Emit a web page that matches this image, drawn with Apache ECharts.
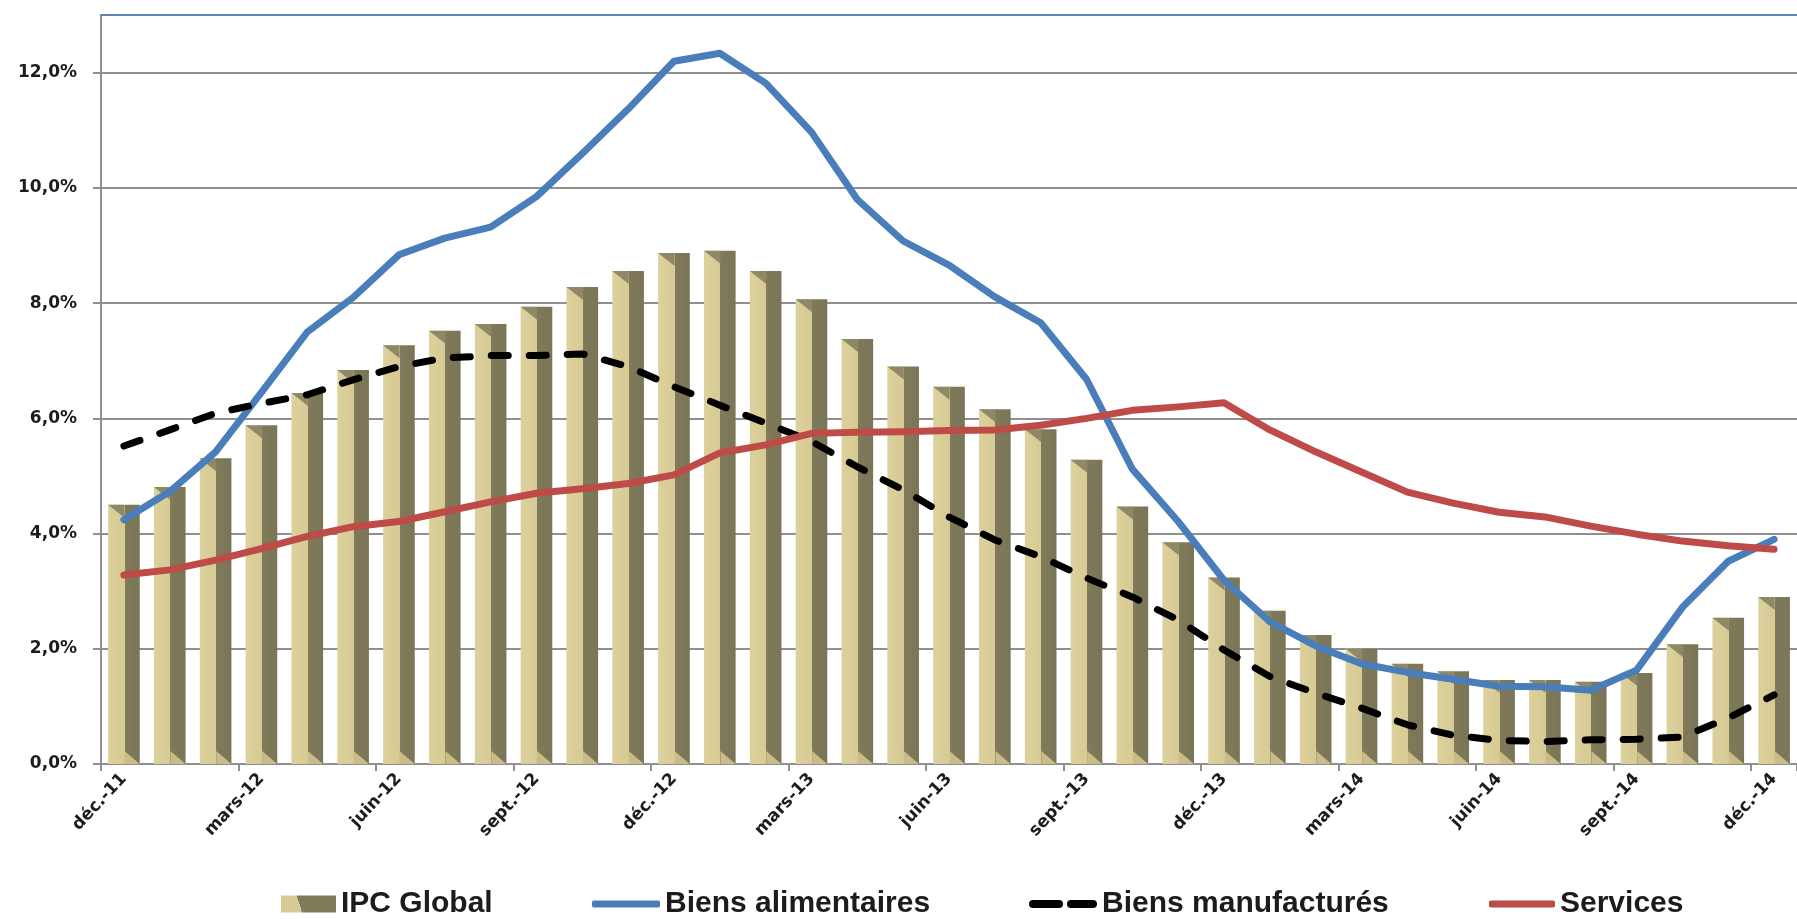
<!DOCTYPE html>
<html>
<head>
<meta charset="utf-8">
<script src="https://cdn.jsdelivr.net/npm/echarts@6/dist/echarts.min.js"></script>
<style>
  html, body { margin: 0; padding: 0; background: #ffffff; overflow: hidden; }
  #chart { width: 1797px; height: 919px; }
</style>
</head>
<body>
<div id="chart"></div>
<script>
// Monthly year-on-year inflation, Dec 2011 – Dec 2014 (%)
const months = [
  'déc.-11', 'janv.-12', 'févr.-12', 'mars-12', 'avr.-12', 'mai-12', 'juin-12', 'juil.-12', 'août-12',
  'sept.-12', 'oct.-12', 'nov.-12', 'déc.-12', 'janv.-13', 'févr.-13', 'mars-13', 'avr.-13', 'mai-13',
  'juin-13', 'juil.-13', 'août-13', 'sept.-13', 'oct.-13', 'nov.-13', 'déc.-13', 'janv.-14', 'févr.-14',
  'mars-14', 'avr.-14', 'mai-14', 'juin-14', 'juil.-14', 'août-14', 'sept.-14', 'oct.-14', 'nov.-14', 'déc.-14'
];

const ipcGlobal = [
  4.50, 4.81, 5.31, 5.88, 6.44, 6.84, 7.27, 7.52, 7.64, 7.94, 8.28, 8.56, 8.87, 8.91, 8.56, 8.07, 7.38,
  6.90, 6.55, 6.16, 5.81, 5.28, 4.47, 3.85, 3.24, 2.66, 2.24, 2.00, 1.74, 1.61, 1.46, 1.46, 1.43, 1.58,
  2.08, 2.54, 2.90
];

const biensAlimentaires = [
  4.24, 4.73, 5.42, 6.45, 7.50, 8.10, 8.84, 9.13, 9.32, 9.85, 10.60, 11.37, 12.20, 12.34, 11.82, 10.97,
  9.80, 9.08, 8.66, 8.11, 7.66, 6.68, 5.12, 4.21, 3.19, 2.47, 2.05, 1.74, 1.59, 1.47, 1.35, 1.34, 1.28,
  1.63, 2.72, 3.52, 3.90
];

const biensManufactures = [
  5.52, 5.80, 6.09, 6.26, 6.41, 6.67, 6.90, 7.05, 7.09, 7.09, 7.12, 6.90, 6.55, 6.23, 5.92, 5.60, 5.16,
  4.76, 4.29, 3.89, 3.60, 3.23, 2.90, 2.50, 1.98, 1.52, 1.23, 0.97, 0.68, 0.50, 0.41, 0.39, 0.42, 0.43,
  0.47, 0.80, 1.20
];

const services = [
  3.28, 3.37, 3.54, 3.74, 3.95, 4.12, 4.21, 4.38, 4.55, 4.70, 4.78, 4.87, 5.02, 5.40, 5.54, 5.74, 5.76,
  5.77, 5.79, 5.80, 5.88, 6.00, 6.14, 6.20, 6.27, 5.80, 5.42, 5.07, 4.72, 4.53, 4.37, 4.29, 4.13, 3.99,
  3.87, 3.79, 3.73
];

const yTickLabels = ['0,0%', '2,0%', '4,0%', '6,0%', '8,0%', '10,0%', '12,0%'];

const BAR_LIGHT = '#d7ca94';
const BAR_DARK = '#7f7a5a';
const BAR_RATIO = 0.69;
const GRID_GRAY = '#8f8f8f';
const TEXT_DARK = '#1c1c1c';
const BLUE = '#4a7ebb';
const RED = '#be4b48';

const barFill = new echarts.graphic.LinearGradient(0, 0, 1, 0, [
  { offset: 0, color: '#dcd09c' },
  { offset: 0.52, color: BAR_LIGHT },
  { offset: 0.52, color: BAR_DARK },
  { offset: 1, color: '#7a7556' }
]);

const legendBarFill = new echarts.graphic.LinearGradient(0, 1, 1, 0, [
  { offset: 0, color: BAR_LIGHT },
  { offset: 0.35, color: BAR_LIGHT },
  { offset: 0.35, color: BAR_DARK },
  { offset: 1, color: BAR_DARK }
]);

// Two rounded dashes for the dashed-line legend key
const DASH_ICON = 'path://M4,0 H30 A4,4 0 0 1 30,8 H4 A4,4 0 0 1 4,0 Z M42,0 H64 A4,4 0 0 1 64,8 H42 A4,4 0 0 1 42,0 Z';

// Bevel facets drawn over each column: a shaded chamfer at the top of the
// front face and a lit chamfer at the foot of the side face.
function renderBevel(params, api) {
  const i = api.value(0);
  const v = api.value(1);
  const top = api.coord([i, v]);
  const base = api.coord([i, 0]);
  const band = api.size([1, 0])[0];
  const w = band * BAR_RATIO;
  const x0 = top[0] - w / 2;
  const x1 = top[0] + w / 2;
  const xm = x0 + w * 0.52;
  const bev = Math.min(13, (base[1] - top[1]) / 2);
  return {
    type: 'group',
    children: [
      {
        type: 'polygon',
        shape: { points: [[x0, top[1]], [xm, top[1]], [xm, top[1] + bev]] },
        style: { fill: '#8e8867' }
      },
      {
        type: 'polygon',
        shape: { points: [[xm, base[1] - bev], [xm, base[1]], [x1, base[1]]] },
        style: { fill: '#c9bc89' }
      }
    ]
  };
}

const legendText = {
  fontFamily: 'Liberation Sans, Arial, sans-serif',
  fontWeight: 'bold',
  fontSize: 30,
  color: TEXT_DARK,
  lineHeight: 34
};

function legendAt(left, item, w, h) {
  return {
    left: left,
    top: 887,
    itemWidth: w,
    itemHeight: h,
    itemGap: 0,
    padding: 0,
    textStyle: legendText,
    selectedMode: false,
    data: [item]
  };
}

const chart = echarts.init(document.getElementById('chart'), null, { renderer: 'canvas' });

chart.setOption({
  backgroundColor: '#ffffff',
  animation: false,
  grid: {
    left: 101,
    top: 764 - 13 * 57.6,
    width: 37 * 46.1,
    bottom: 155,
    containLabel: false
  },
  legend: [
    legendAt(281, { name: 'IPC Global', icon: 'rect', itemStyle: { color: legendBarFill } }, 55, 17),
    legendAt(592, { name: 'Biens alimentaires', icon: 'roundRect', itemStyle: { color: BLUE } }, 68, 7),
    legendAt(1029, { name: 'Biens manufacturés', icon: DASH_ICON, itemStyle: { color: '#000000' } }, 68, 8),
    legendAt(1489, { name: 'Services', icon: 'roundRect', itemStyle: { color: RED } }, 66, 7)
  ],
  xAxis: [
    {
      type: 'category',
      data: months,
      boundaryGap: true,
      axisLine: { show: true, lineStyle: { color: GRID_GRAY, width: 2 } },
      axisTick: { show: true, interval: 2, length: 7, alignWithLabel: false, lineStyle: { color: GRID_GRAY, width: 2 } },
      axisLabel: {
        interval: 2,
        rotate: 47,
        margin: 12,
        fontFamily: 'DejaVu Sans, sans-serif',
        fontWeight: 'bold',
        fontSize: 17,
        color: TEXT_DARK
      },
      splitLine: { show: false }
    },
    {
      type: 'category',
      data: months,
      position: 'top',
      axisLine: { show: true, lineStyle: { color: '#4f81bd', width: 1.5 } },
      axisTick: { show: false },
      axisLabel: { show: false },
      splitLine: { show: false }
    }
  ],
  yAxis: {
    type: 'value',
    min: 0,
    max: 13,
    interval: 2,
    axisLine: { show: true, lineStyle: { color: GRID_GRAY, width: 2 } },
    axisTick: { show: true, length: 8, lineStyle: { color: GRID_GRAY, width: 2 } },
    axisLabel: {
      margin: 24,
      fontFamily: 'DejaVu Sans, sans-serif',
      fontWeight: 'bold',
      fontSize: 17,
      color: TEXT_DARK,
      showMaxLabel: false,
      formatter: v => (v % 2 === 0 ? (yTickLabels[v / 2] || '') : '')
    },
    splitLine: { show: true, lineStyle: { color: GRID_GRAY, width: 2 } }
  },
  series: [
    {
      name: 'IPC Global',
      type: 'bar',
      data: ipcGlobal,
      barWidth: (BAR_RATIO * 100) + '%',
      itemStyle: { color: barFill },
      z: 2
    },
    {
      name: 'IPC bevel',
      type: 'custom',
      data: ipcGlobal.map((v, i) => [i, v]),
      renderItem: renderBevel,
      silent: true,
      z: 3
    },
    {
      name: 'Biens alimentaires',
      type: 'line',
      data: biensAlimentaires,
      symbol: 'none',
      lineStyle: { color: BLUE, width: 7, cap: 'round', join: 'round' },
      itemStyle: { color: BLUE },
      z: 4
    },
    {
      name: 'Biens manufacturés',
      type: 'line',
      data: biensManufactures,
      symbol: 'none',
      lineStyle: { color: '#000000', width: 7, type: [17, 21], cap: 'round', join: 'round' },
      itemStyle: { color: '#000000' },
      z: 5
    },
    {
      name: 'Services',
      type: 'line',
      data: services,
      symbol: 'none',
      lineStyle: { color: RED, width: 7, cap: 'round', join: 'round' },
      itemStyle: { color: RED },
      z: 6
    }
  ]
});
</script>
</body>
</html>
